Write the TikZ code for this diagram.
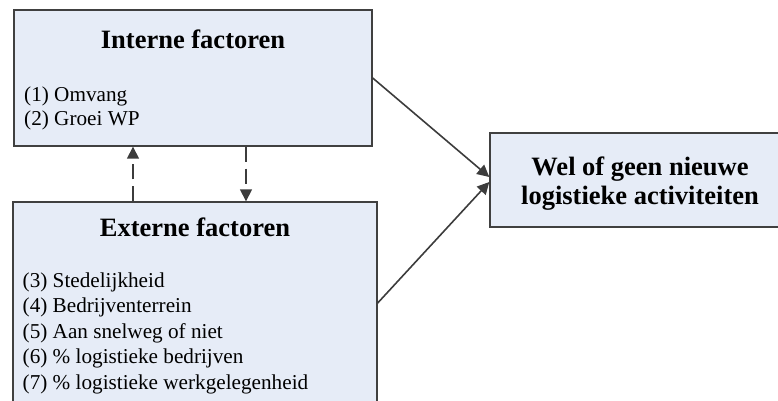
\documentclass[tikz,border=0pt]{standalone}
\usepackage{fontspec}
\setmainfont{Liberation Serif}
\usetikzlibrary{arrows.meta}
\definecolor{boxfill}{RGB}{230,236,247}
\definecolor{boxline}{RGB}{64,64,64}
\definecolor{arrowgray}{RGB}{60,60,60}
\tikzset{
  factorbox/.style={draw=boxline, fill=boxfill, line width=1.4pt, rectangle, inner sep=0pt},
  heading/.style={font=\bfseries\fontsize{26.5}{29}\selectfont, inner sep=0pt, anchor=base},
  item/.style={font=\fontsize{21.2}{25}\selectfont, inner sep=0pt, anchor=base west},
  link/.style={draw=arrowgray, line width=1.6pt, -{Triangle[width=12pt,length=12pt]}},
  feedback/.style={link, dash pattern=on 15pt off 7pt}
}
\begin{document}
\begin{tikzpicture}[x=1pt,y=-1pt]
\useasboundingbox (0,0) rectangle (778,400);
\begin{scope}
\clip (0,0) rectangle (778,400);
% boxes
\node[factorbox, minimum width=358pt, minimum height=136pt] (ib) at (193,78) {};
\node[factorbox, minimum width=364pt, minimum height=220pt] (eb) at (195,312) {};
\node[factorbox, minimum width=320pt, minimum height=94pt] (wb) at (650,180) {};
% headings
\node[heading] (ibt) at (193,48.5) {Interne factoren};
\node[heading] (ebt) at (195,236.5) {Externe factoren};
\node[heading] (wbt1) at (640,175) {Wel of geen nieuwe};
\node[heading] (wbt2) at (640,204) {logistieke activiteiten};
% factor lists
\node[item] (i1) at (24,101.5) {(1) Omvang};
\node[item] (i2) at (24,125) {(2) Groei WP};
\node[item] (e3) at (22.5,287) {(3) Stedelijkheid};
\node[item] (e4) at (22.5,312.5) {(4) Bedrijventerrein};
\node[item] (e5) at (22.5,338) {(5) Aan snelweg of niet};
\node[item] (e6) at (22.5,363.5) {(6) \% logistieke bedrijven};
\node[item] (e7) at (22.5,389) {(7) \% logistieke werkgelegenheid};
% connector end points
\coordinate (ibout) at (ib.east);
\coordinate (ebout) at (eb.east |- 0,303);
\coordinate (wbin1) at (wb.west |- 0,177);
\coordinate (wbin2) at (wb.west |- 0,182);
\coordinate (up0) at (eb.north -| 133,0);
\coordinate (up1) at (ib.south -| 133,0);
\coordinate (dn0) at (ib.south -| 246,0);
\coordinate (dn1) at (eb.north -| 246,0);
% connectors
\draw[link] (ibout) -- (wbin1);
\draw[link] (ebout) -- (wbin2);
\draw[feedback] (up0) -- (up1);
\draw[feedback] (dn0) -- (dn1);
\end{scope}
\end{tikzpicture}
\end{document}
